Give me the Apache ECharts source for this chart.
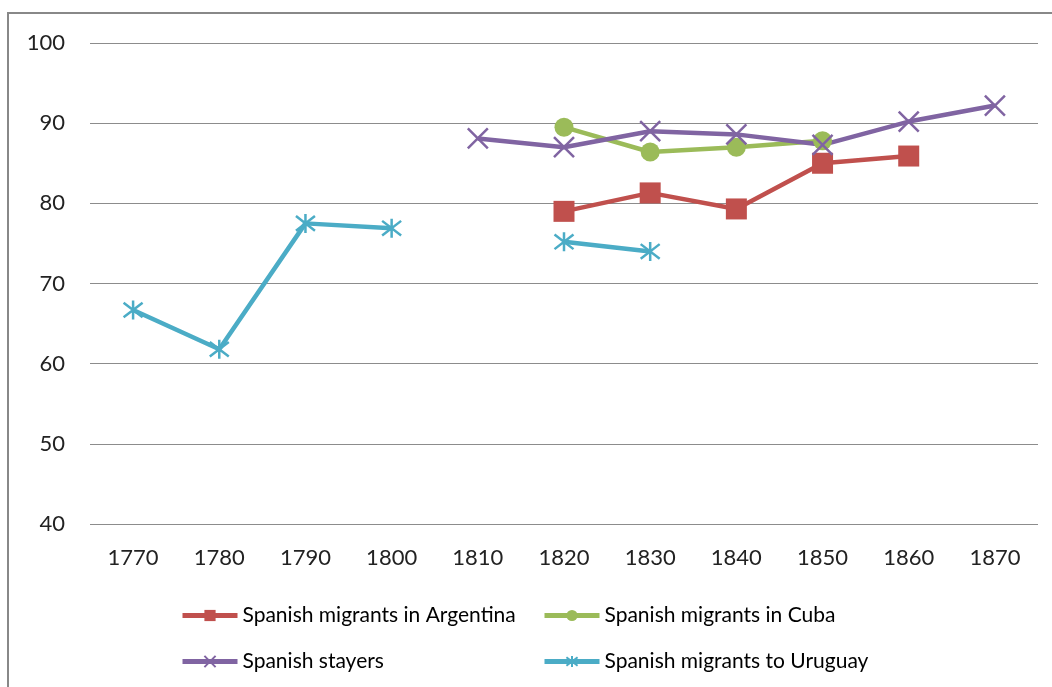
<!DOCTYPE html>
<html>
<head>
<meta charset="utf-8">
<script src="https://cdn.jsdelivr.net/npm/echarts@6/dist/echarts.min.js"></script>
<style>
  html, body { margin: 0; padding: 0; background: #fff; }
  #chart { width: 1052px; height: 687px; }
</style>
</head>
<body>
<div id="chart"></div>
<script>
const years = ['1770', '1780', '1790', '1800', '1810', '1820', '1830', '1840', '1850', '1860', '1870']
const argentina = [null, null, null, null, null, 79.0, 81.3, 79.3, 85.0, 85.9, null]
const cuba = [null, null, null, null, null, 89.5, 86.4, 87.0, 87.8, null, null]
const stayers = [null, null, null, null, 88.1, 87.0, 89.0, 88.6, 87.3, 90.2, 92.2]
const uruguay = [66.7, 61.8, 77.5, 76.9, null, 75.2, 74.0, null, null, null, null]

const FONT = 'Lato, "Open Sans", sans-serif'
const xPath = 'path://M0,0L10,10M10,0L0,10'
const starPath = 'path://M0,0L10,10M10,0L0,10M5,-1.5L5,11.5'

const chart = echarts.init(document.getElementById('chart'))

function line(name, data, color, symbol, size, stroked) {
  return {
    name,
    type: 'line',
    data,
    symbol,
    symbolSize: size,
    connectNulls: false,
    lineStyle: { color, width: 4.5 },
    itemStyle: stroked
      ? { color: 'rgba(0,0,0,0)', borderColor: color, borderWidth: 2.5 }
      : { color, borderWidth: 0 },
    emphasis: { disabled: true }
  }
}

function legend(name, left, top) {
  return {
    data: [name],
    left,
    top,
    itemWidth: 55,
    itemHeight: 14,
    itemGap: 0,
    lineStyle: { width: 5 },
    textStyle: { fontFamily: FONT, fontSize: 21, color: '#000', padding: [0, 0, 0, 0] }
  }
}

chart.setOption({
  animation: false,
  graphic: [{
    type: 'rect',
    shape: { x: 8, y: 13, width: 1100, height: 700 },
    style: { fill: 'none', stroke: '#888', lineWidth: 2 },
    z: -1
  }],
  grid: { left: 90, right: 14, top: 43, bottom: 163 },
  legend: [
    legend('Spanish migrants in Argentina', 175, 600),
    legend('Spanish migrants in Cuba', 537, 600),
    legend('Spanish stayers', 175, 646),
    legend('Spanish migrants to Uruguay', 537, 646)
  ],
  xAxis: {
    type: 'category',
    data: years,
    boundaryGap: true,
    axisLine: { show: false },
    axisTick: { show: false },
    axisLabel: { fontFamily: FONT, fontSize: 22, color: '#222', margin: 23 }
  },
  yAxis: {
    type: 'value',
    min: 40,
    max: 100,
    interval: 10,
    axisLine: { show: false },
    axisTick: { show: false },
    axisLabel: { fontFamily: FONT, fontSize: 22, color: '#222', margin: 25 },
    splitLine: { lineStyle: { color: '#8c8c8c', width: 1 } }
  },
  series: [
    line('Spanish migrants in Argentina', argentina, '#C0504D', 'rect', 21, false),
    line('Spanish migrants in Cuba', cuba, '#9BBB59', 'circle', 19, false),
    line('Spanish stayers', stayers, '#8064A2', xPath, 20, true),
    line('Spanish migrants to Uruguay', uruguay, '#4BACC6', starPath, 19, true)
  ]
})
</script>
</body>
</html>
